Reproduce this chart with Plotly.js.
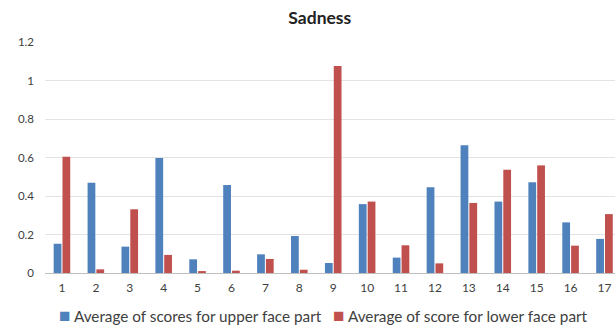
<!DOCTYPE html>
<html>
<head>
<meta charset="utf-8">
<script src="https://cdn.plot.ly/plotly-3.0.1.min.js"></script>
<style>html,body{margin:0;padding:0;background:#fff;}#chart{width:615px;height:325px;}</style>
</head>
<body>
<div id="chart"></div>
<script>
var categories = [1,2,3,4,5,6,7,8,9,10,11,12,13,14,15,16,17];
var upperScores = [0.152,0.469,0.137,0.597,0.071,0.457,0.097,0.192,0.052,0.358,0.080,0.445,0.663,0.371,0.471,0.263,0.177];
var lowerScores = [0.604,0.019,0.331,0.094,0.010,0.012,0.073,0.017,1.075,0.371,0.144,0.050,0.364,0.537,0.559,0.142,0.306];
var seriesNames = ["Average of scores for upper face part","Average of score for lower face part"];
var seriesColors = ["#4F81BD","#C0504D"];
var yTicks = [0,0.2,0.4,0.6,0.8,1,1.2];

var font = "Lato, 'Open Sans', sans-serif";
var data = [
  {type:"bar", x:categories, y:upperScores, name:seriesNames[0], marker:{color:seriesColors[0]}},
  {type:"bar", x:categories, y:lowerScores, name:seriesNames[1], marker:{color:seriesColors[1]}}
];
var legendText = seriesNames.map(function(n,i){
  return '<span style="color:' + seriesColors[i] + ';font-size:19px">■</span> ' + n;
}).join('   ');
var layout = {
  width:615, height:325,
  margin:{l:45, r:0, t:42, b:52},
  paper_bgcolor:"#fff", plot_bgcolor:"#fff",
  title:{text:"<b>Sadness</b>", x:0.52, xanchor:"center", y:0.945, yanchor:"middle", font:{family:font, size:17.5, color:"#222"}},
  barmode:"group", bargap:0.48, bargroupgap:0.12,
  showlegend:false,
  annotations:[{xref:"paper", yref:"paper", x:0.489, y:-0.178, xanchor:"center", yanchor:"middle", borderpad:0, showarrow:false, text:legendText, font:{family:font, size:15.3, color:"#404040"}}],
  xaxis:{type:"linear", range:[0.5,17.31], tickvals:categories, ticktext:categories.map(String), showgrid:false, zeroline:false, showline:false, ticks:"", ticklabelstandoff:6, tickfont:{family:font, size:12, color:"#404040"}, fixedrange:true},
  yaxis:{range:[0,1.2], tickvals:yTicks, ticktext:yTicks.map(String), showgrid:true, gridcolor:"#e3e3e3", gridwidth:1, zeroline:true, zerolinecolor:"#bfbfbf", zerolinewidth:1, showline:false, ticks:"", ticklabelstandoff:10, tickfont:{family:font, size:11.5, color:"#404040"}, fixedrange:true}
};
Plotly.newPlot("chart", data, layout, {staticPlot:true, displayModeBar:false});
</script>
</body>
</html>
